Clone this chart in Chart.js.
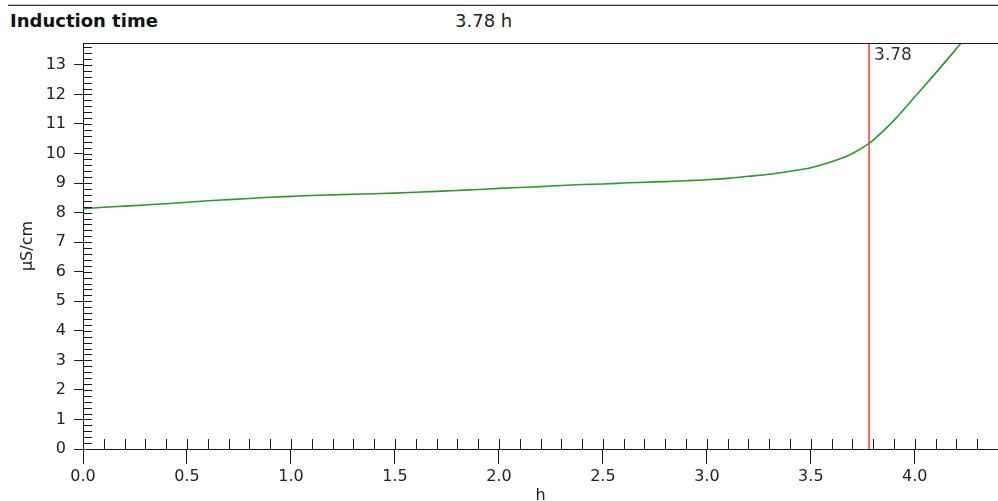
<!DOCTYPE html>
<html>
<head>
<meta charset="utf-8">
<script src="https://cdn.jsdelivr.net/npm/chart.js@4"></script>
<style>
  html, body { margin: 0; padding: 0; background: #fff; overflow: hidden; }
  #wrap { position: relative; width: 998px; height: 510px; }
  #rule-light { position: absolute; left: 8px; right: 0; top: 4px; height: 1px; background: #c8c8c8; }
  #rule { position: absolute; left: 8px; right: 0; top: 5px; height: 1px; background: #333; }
  #hdr-title { position: absolute; left: 10px; top: 11px; font: bold 18px "DejaVu Sans", sans-serif; line-height: 20px; color: #111; }
  #hdr-value { position: absolute; left: 455px; top: 11px; font: 18px "DejaVu Sans", sans-serif; line-height: 20px; color: #222; }
  canvas { position: absolute; left: 0; top: 0; }
</style>
</head>
<body>
<div id="wrap">
  <div id="rule-light"></div>
  <div id="rule"></div>
  <span id="hdr-title">Induction time</span>
  <span id="hdr-value"></span>
  <canvas id="chart" width="998" height="510"></canvas>
</div>
<script>
// dados
const hours = [0.0, 0.1, 0.2, 0.3, 0.4, 0.5, 0.6, 0.7, 0.8, 0.9,
               1.0, 1.1, 1.2, 1.3, 1.4, 1.5, 1.6, 1.7, 1.8, 1.9,
               2.0, 2.1, 2.2, 2.3, 2.4, 2.5, 2.6, 2.7, 2.8, 2.9,
               3.0, 3.1, 3.2, 3.3, 3.4, 3.5, 3.6, 3.7, 3.78, 3.8,
               3.9, 4.0, 4.1, 4.2, 4.25];
const conductivity = [8.13, 8.18, 8.22, 8.26, 8.30, 8.35, 8.40, 8.44, 8.48, 8.52,
                      8.55, 8.58, 8.60, 8.62, 8.64, 8.66, 8.69, 8.72, 8.75, 8.78,
                      8.82, 8.85, 8.88, 8.92, 8.95, 8.97, 9.00, 9.03, 9.05, 9.08,
                      9.11, 9.16, 9.23, 9.30, 9.40, 9.52, 9.72, 10.00, 10.34, 10.45,
                      11.12, 11.92, 12.72, 13.55, 13.98];
const inductionTime = 3.78;
const xTickLabels = ['0.0', '0.5', '1.0', '1.5', '2.0', '2.5', '3.0', '3.5', '4.0'];
const yTickLabels = ['0', '1', '2', '3', '4', '5', '6', '7', '8', '9', '10', '11', '12', '13'];
const xMax = 4.4;
const yMax = 13.74;

document.getElementById('hdr-value').textContent = inductionTime.toFixed(2) + ' h';

const FONT = '"DejaVu Sans", sans-serif';

function xLabel(v) {
    const s = v.toFixed(1);
    return xTickLabels.includes(s) ? s : '';
}
function yLabel(v) {
    if (Math.abs(v - Math.round(v)) > 1e-6) return '';
    const s = String(Math.round(v));
    return yTickLabels.includes(s) ? s : '';
}

// marcas internas (menores) e borda de cima
const innerTicks = {
    id: 'innerTicks',
    afterDraw(chart) {
        const { ctx, chartArea, scales: { x, y } } = chart;
        ctx.save();
        ctx.strokeStyle = '#1a1a1a';
        ctx.lineWidth = 1;
        ctx.beginPath();
        x.ticks.forEach(t => {
            const px = Math.round(x.getPixelForValue(t.value)) + 0.5;
            ctx.moveTo(px, chartArea.bottom);
            ctx.lineTo(px, chartArea.bottom - 10);
        });
        y.ticks.forEach(t => {
            const py = Math.round(y.getPixelForValue(t.value)) + 0.5;
            ctx.moveTo(chartArea.left, py);
            ctx.lineTo(chartArea.left + 9, py);
        });
        ctx.moveTo(chartArea.left, Math.round(chartArea.top) + 0.5);
        ctx.lineTo(chartArea.right, Math.round(chartArea.top) + 0.5);
        ctx.stroke();

        ctx.fillStyle = '#333';
        ctx.font = '17px ' + FONT;
        ctx.textBaseline = 'top';
        ctx.fillText(inductionTime.toFixed(2), x.getPixelForValue(inductionTime) + 5, chartArea.top + 4);
        ctx.restore();
    }
};

const ctx = document.getElementById('chart').getContext('2d');
const myChart = new Chart(ctx, {
    type: 'line',
    data: {
        datasets: [{
            data: hours.map((h, i) => ({ x: h, y: conductivity[i] })),
            borderColor: '#2a9a2a',
            borderWidth: 1.6,
            pointRadius: 0,
            cubicInterpolationMode: 'monotone'
        }, {
            data: [{ x: inductionTime, y: 0 }, { x: inductionTime, y: yMax }],
            borderColor: '#ff3535',
            borderWidth: 1.5,
            pointRadius: 0
        }]
    },
    options: {
        responsive: false,
        animation: false,
        devicePixelRatio: 1,
        layout: { padding: { top: 43, left: 0, right: 0, bottom: 0 } },
        plugins: { legend: { display: false }, tooltip: { enabled: false } },
        scales: {
            x: {
                type: 'linear',
                min: 0,
                max: xMax,
                afterFit: s => { s.height = 61; s.paddingRight = 0; },
                border: { display: true, color: '#1a1a1a', width: 1 },
                grid: {
                    drawOnChartArea: false,
                    drawTicks: true,
                    tickLength: 15,
                    tickColor: c => (c.tick && xLabel(c.tick.value) !== '') ? '#1a1a1a' : 'rgba(0,0,0,0)'
                },
                ticks: {
                    stepSize: 0.1,
                    autoSkip: false,
                    maxRotation: 0,
                    includeBounds: false,
                    padding: 3,
                    color: '#222',
                    font: { family: FONT, size: 16 },
                    callback: v => xLabel(v)
                },
                title: {
                    display: true,
                    text: 'h',
                    color: '#222',
                    font: { family: FONT, size: 16 },
                    padding: { top: 0, bottom: 5 }
                }
            },
            y: {
                type: 'linear',
                min: 0,
                max: yMax,
                afterFit: s => { s.width = 83; },
                border: { display: true, color: '#1a1a1a', width: 1 },
                grid: {
                    drawOnChartArea: false,
                    drawTicks: true,
                    tickLength: 9,
                    tickColor: c => (c.tick && yLabel(c.tick.value) !== '') ? '#1a1a1a' : 'rgba(0,0,0,0)'
                },
                ticks: {
                    stepSize: 0.2,
                    autoSkip: false,
                    includeBounds: false,
                    padding: 8,
                    color: '#222',
                    font: { family: FONT, size: 16 },
                    callback: v => yLabel(v)
                },
                title: {
                    display: true,
                    text: 'µS/cm',
                    color: '#222',
                    font: { family: FONT, size: 16 },
                    padding: { top: 18, bottom: 0 }
                }
            }
        }
    },
    plugins: [innerTicks]
});
</script>
</body>
</html>
